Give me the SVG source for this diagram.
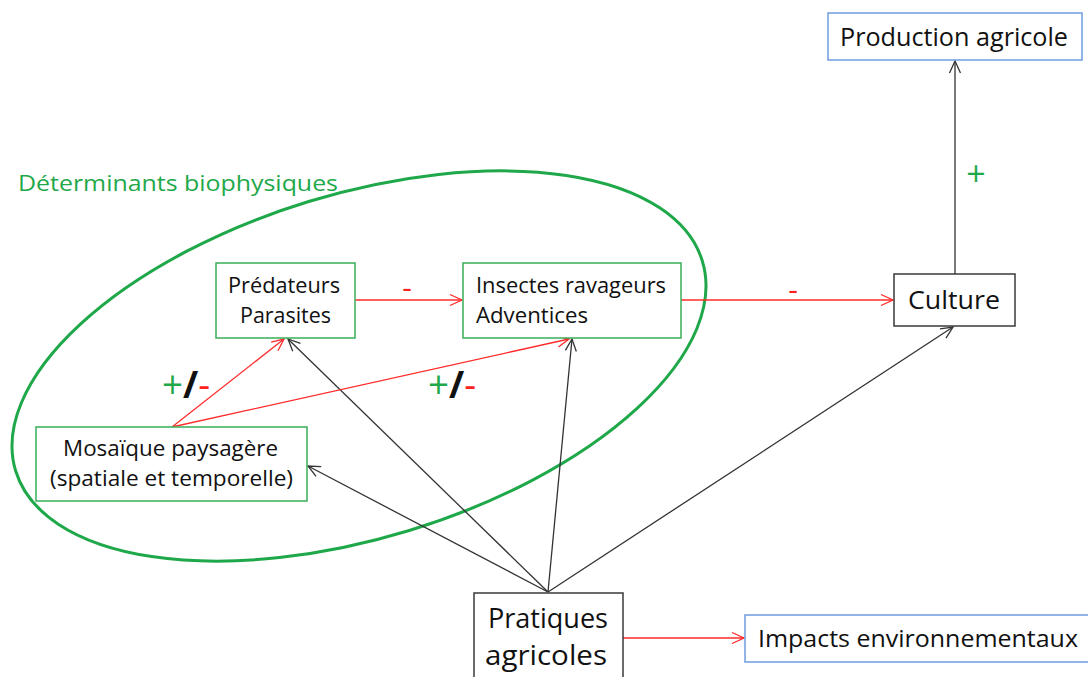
<svg xmlns="http://www.w3.org/2000/svg" width="1088" height="677" viewBox="0 0 1088 677">
<style>
  text { font-family: "Open Sans", "Liberation Sans", sans-serif; fill: #111; }
  .gbox { fill: #fff; stroke: #3aae5a; stroke-width: 1.5; }
  .bbox { fill: #fff; stroke: #6f9de0; stroke-width: 1.5; }
  .kbox { fill: #fff; stroke: #3a3a3a; stroke-width: 1.5; }
  .k { stroke: #333; stroke-width: 1.3; fill: none; marker-end: url(#ak); }
  .r { stroke: #ff2a2a; stroke-width: 1.3; fill: none; marker-end: url(#ar); }
  .g { fill: #1fa84a; }
  .red { fill: #ff2020; }
</style>
<defs>
  <marker id="ak" viewBox="-1 -7 15 14" refX="12" refY="0" markerWidth="15" markerHeight="14" markerUnits="userSpaceOnUse" orient="auto">
    <path d="M0,-5.5 L12,0 L0,5.5" fill="none" stroke="#333" stroke-width="1.3"/>
  </marker>
  <marker id="ar" viewBox="-1 -7 15 14" refX="12" refY="0" markerWidth="15" markerHeight="14" markerUnits="userSpaceOnUse" orient="auto">
    <path d="M0,-5.5 L12,0 L0,5.5" fill="none" stroke="#ff2a2a" stroke-width="1.3"/>
  </marker>
</defs>
<rect width="1088" height="677" fill="#fff"/>

<g id="ellipse-determinants">
  <ellipse cx="359" cy="366" rx="359" ry="172" transform="rotate(-17 359 366)" fill="none" stroke="#1fa84a" stroke-width="3"/>
  <text x="18" y="191" font-size="22" class="g" textLength="320" lengthAdjust="spacingAndGlyphs">Déterminants biophysiques</text>
</g>

<g id="connectors">
  <line class="k" x1="548" y1="592" x2="308" y2="466"/>
  <line class="k" x1="548" y1="592" x2="288" y2="339"/>
  <line class="k" x1="548" y1="592" x2="572" y2="339"/>
  <line class="k" x1="548" y1="592" x2="953" y2="327"/>
  <line class="k" x1="955" y1="274" x2="955" y2="61"/>
  <line class="r" x1="172" y1="427" x2="284" y2="339"/>
  <line class="r" x1="172" y1="427" x2="569" y2="339"/>
  <line class="r" x1="355" y1="300" x2="462" y2="300"/>
  <line class="r" x1="681" y1="300" x2="893" y2="300"/>
  <line class="r" x1="623" y1="638" x2="744" y2="638"/>
  <text x="407" y="298" font-size="30" text-anchor="middle" class="red">-</text>
  <text x="793" y="300" font-size="30" text-anchor="middle" class="red">-</text>
  <text x="976" y="186" font-size="34" text-anchor="middle" class="g">+</text>
  <text x="162" y="398" font-size="38" textLength="48" lengthAdjust="spacingAndGlyphs"><tspan class="g">+</tspan><tspan font-weight="bold">/</tspan><tspan class="red">-</tspan></text>
  <text x="428" y="398" font-size="38" textLength="48" lengthAdjust="spacingAndGlyphs"><tspan class="g">+</tspan><tspan font-weight="bold">/</tspan><tspan class="red">-</tspan></text>
</g>

<g id="node-production">
  <rect class="bbox" x="828" y="13" width="254" height="47"/>
  <text x="840" y="46" font-size="26" textLength="228" lengthAdjust="spacingAndGlyphs">Production agricole</text>
</g>

<g id="node-culture">
  <rect class="kbox" x="894" y="274" width="121" height="52"/>
  <text x="908" y="309" font-size="26" textLength="92" lengthAdjust="spacingAndGlyphs">Culture</text>
</g>

<g id="node-predateurs">
  <rect class="gbox" x="216" y="263" width="139" height="75"/>
  <text x="228" y="293" font-size="22.5" textLength="112" lengthAdjust="spacingAndGlyphs">Prédateurs</text>
  <text x="240" y="323" font-size="22.5" textLength="91" lengthAdjust="spacingAndGlyphs">Parasites</text>
</g>

<g id="node-insectes">
  <rect class="gbox" x="463" y="263" width="218" height="75"/>
  <text x="476" y="293" font-size="22.5" textLength="190" lengthAdjust="spacingAndGlyphs">Insectes ravageurs</text>
  <text x="476" y="323" font-size="22.5" textLength="112" lengthAdjust="spacingAndGlyphs">Adventices</text>
</g>

<g id="node-mosaique">
  <rect class="gbox" x="36" y="427" width="271" height="74"/>
  <text x="63" y="456" font-size="22.5" textLength="215" lengthAdjust="spacingAndGlyphs">Mosaïque paysagère</text>
  <text x="50" y="486" font-size="22.5" textLength="243" lengthAdjust="spacingAndGlyphs">(spatiale et temporelle)</text>
</g>

<g id="node-pratiques">
  <rect class="kbox" x="474" y="593" width="149" height="95"/>
  <text x="488" y="628" font-size="28" textLength="120" lengthAdjust="spacingAndGlyphs">Pratiques</text>
  <text x="485" y="665" font-size="28" textLength="122" lengthAdjust="spacingAndGlyphs">agricoles</text>
</g>

<g id="node-impacts">
  <rect class="bbox" x="745" y="615" width="345" height="47"/>
  <text x="758" y="647" font-size="23.5" textLength="320" lengthAdjust="spacingAndGlyphs">Impacts environnementaux</text>
</g>
</svg>
